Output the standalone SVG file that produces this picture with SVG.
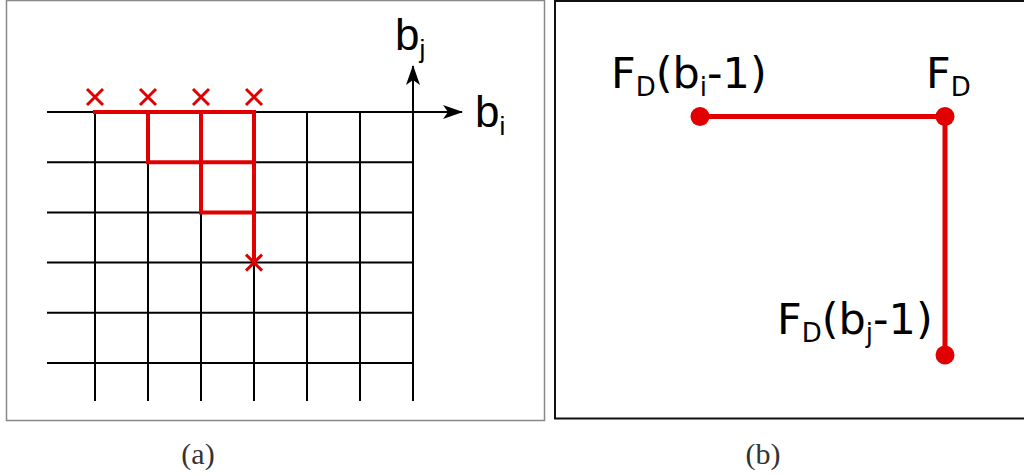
<svg xmlns="http://www.w3.org/2000/svg" width="1024" height="475" viewBox="0 0 1024 475">
<style>
.grid{stroke:#000;stroke-width:2;fill:none}
.red{stroke:#e00000;stroke-width:4;fill:none;stroke-linecap:square}
.cross{stroke:#e00000;stroke-width:3;fill:none}
.lt{font-family:"Liberation Sans",Arial,sans-serif;font-size:44px;fill:#000}
.dv{font-family:"DejaVu Sans",sans-serif;font-size:43px;fill:#000}
.cap{font-family:"Liberation Serif","Times New Roman",serif;font-size:30px;fill:#333;text-anchor:middle}
</style>
<defs>
<marker id="arrL" viewBox="0 0 20 14" refX="19" refY="7" markerWidth="20" markerHeight="14" markerUnits="userSpaceOnUse" orient="auto">
<path d="M0,0 L20,7 L0,14 L5,7 Z" fill="#000"/>
</marker>
</defs>
<rect width="1024" height="475" fill="#fff"/>
<g id="panel-a">
<rect x="6.5" y="0.5" width="538" height="420" fill="none" stroke="#888" stroke-width="1.5"/>
<g id="grid" class="grid">
<line x1="47" y1="162.2" x2="413" y2="162.2"/>
<line x1="47" y1="212.4" x2="413" y2="212.4"/>
<line x1="47" y1="262.6" x2="413" y2="262.6"/>
<line x1="47" y1="312.8" x2="413" y2="312.8"/>
<line x1="47" y1="363" x2="413" y2="363"/>
<line x1="95" y1="112" x2="95" y2="401"/>
<line x1="148" y1="112" x2="148" y2="401"/>
<line x1="201" y1="112" x2="201" y2="401"/>
<line x1="254" y1="112" x2="254" y2="401"/>
<line x1="307" y1="112" x2="307" y2="401"/>
<line x1="360" y1="112" x2="360" y2="401"/>
</g>
<g id="axes" class="grid">
<line x1="47" y1="112" x2="462" y2="112" marker-end="url(#arrL)"/>
<line x1="413" y1="401" x2="413" y2="66" marker-end="url(#arrL)"/>
</g>
<g id="path" class="red">
<polyline points="95,112 254,112 254,262.6"/>
<polyline points="148,112 148,162.2 254,162.2"/>
<polyline points="201,112 201,212.4 254,212.4"/>
</g>
<g id="crosses" class="cross">
<path d="M87,89 L103,105 M103,89 L87,105"/>
<path d="M140,89 L156,105 M156,89 L140,105"/>
<path d="M193,89 L209,105 M209,89 L193,105"/>
<path d="M246,89 L262,105 M262,89 L246,105"/>
<path d="M246,254.6 L262,270.6 M262,254.6 L246,270.6"/>
</g>
<text class="lt" x="395" y="50">b<tspan font-size="26" dy="8">j</tspan></text>
<text class="lt" x="475" y="127">b<tspan font-size="26" dy="8">i</tspan></text>
</g>
<g id="panel-b">
<rect x="555" y="1" width="480" height="417.5" fill="none" stroke="#111" stroke-width="2"/>
<g id="connectors" class="red" style="stroke-width:5">
<polyline points="700,116.5 945,116.5 945,355"/>
</g>
<g id="node-FDbi">
<circle cx="700" cy="116.5" r="9.5" fill="#e00000"/>
<text class="dv" x="611" y="88">F<tspan font-size="26" dy="8">D</tspan><tspan dy="-8">(b</tspan><tspan font-size="26" dy="8">i</tspan><tspan dy="-8">-1)</tspan></text>
</g>
<g id="node-FD">
<circle cx="945" cy="116.5" r="9.5" fill="#e00000"/>
<text class="dv" x="926" y="88">F<tspan font-size="26" dy="8">D</tspan></text>
</g>
<g id="node-FDbj">
<circle cx="945" cy="355" r="9.5" fill="#e00000"/>
<text class="dv" x="777" y="334">F<tspan font-size="26" dy="8">D</tspan><tspan dy="-8">(b</tspan><tspan font-size="26" dy="8">j</tspan><tspan dy="-8">-1)</tspan></text>
</g>
</g>
<text class="cap" x="198" y="464">(a)</text>
<text class="cap" x="763" y="464">(b)</text>
</svg>
